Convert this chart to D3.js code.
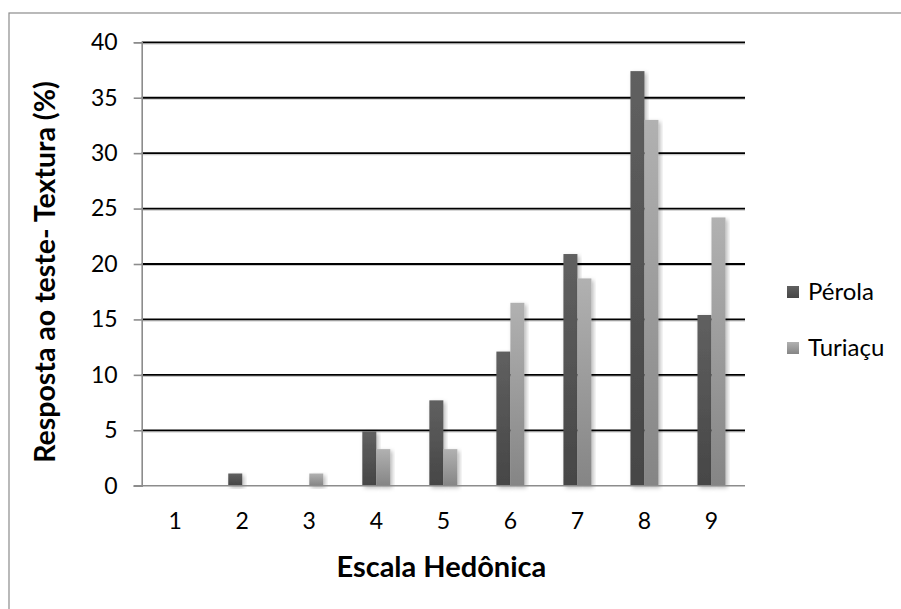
<!DOCTYPE html>
<html>
<head>
<meta charset="utf-8">
<script src="https://cdn.jsdelivr.net/npm/d3@7"></script>
<style>
  body { margin: 0; background: #fff; }
  svg { display: block; font-family: Lato, "Open Sans", sans-serif; }
</style>
</head>
<body>
<svg id="chart" width="901" height="609"></svg>
<script>
// Hedonic scale responses for texture (%)
const categories = ["1", "2", "3", "4", "5", "6", "7", "8", "9"];
const seriesNames = ["Pérola", "Turiaçu"];
const perolaValues = [0, 1.1, 0, 4.9, 7.7, 12.1, 20.9, 37.4, 15.4];
const turiacuValues = [0, 0, 1.1, 3.3, 3.3, 16.5, 18.7, 33.0, 24.2];
const yTicks = [0, 5, 10, 15, 20, 25, 30, 35, 40];
const xTitle = "Escala Hedônica";
const yTitle = "Resposta ao teste- Textura (%)";

const svg = d3.select("#chart");
const margin = { left: 141.7, right: 156, top: 42.3, bottom: 123.3 };
const W = 901, H = 609;
const plotW = W - margin.left - margin.right;
const plotH = H - margin.top - margin.bottom;

const defs = svg.append("defs");
const grads = [
  { id: "gPerola", top: "#606060", bottom: "#464646" },
  { id: "gTuriacu", top: "#b1b1b1", bottom: "#858585" }
];
grads.forEach(g => {
  const lg = defs.append("linearGradient").attr("id", g.id)
    .attr("x1", 0).attr("y1", 0).attr("x2", 0).attr("y2", 1);
  lg.append("stop").attr("offset", "0%").attr("stop-color", g.top);
  lg.append("stop").attr("offset", "100%").attr("stop-color", g.bottom);
});
const shadow = defs.append("filter").attr("id", "barShadow")
  .attr("x", "-30%").attr("y", "-10%").attr("width", "160%").attr("height", "130%");
shadow.append("feDropShadow").attr("dx", 2).attr("dy", 2)
  .attr("stdDeviation", 2).attr("flood-color", "#000").attr("flood-opacity", 0.28);

// outer chart frame
svg.append("rect").attr("x", 9).attr("y", 13).attr("width", 900).attr("height", 610)
  .attr("fill", "none").attr("stroke", "#8c8c8c").attr("stroke-width", 1.2);

const g = svg.append("g").attr("transform", `translate(${margin.left},${margin.top})`);

const x0 = d3.scaleBand().domain(categories).range([0, plotW]).paddingInner(0).paddingOuter(0);
const x1 = d3.scaleBand().domain(seriesNames).range([0, 28]);
const y = d3.scaleLinear().domain([0, 40]).range([plotH, 0]);

// gridlines with a soft underside
const grid = g.append("g");
yTicks.filter(t => t > 0).forEach(t => {
  grid.append("line").attr("x1", 0).attr("x2", plotW)
    .attr("y1", y(t) + 1.5).attr("y2", y(t) + 1.5)
    .attr("stroke", "#c8c8c8").attr("stroke-width", 1.2);
  grid.append("line").attr("x1", 0).attr("x2", plotW)
    .attr("y1", y(t)).attr("y2", y(t))
    .attr("stroke", "#000").attr("stroke-width", 1.8);
});

// bars
const data = categories.map((c, i) => ({
  cat: c,
  vals: [
    { name: seriesNames[0], v: perolaValues[i], fill: "url(#gPerola)" },
    { name: seriesNames[1], v: turiacuValues[i], fill: "url(#gTuriacu)" }
  ]
}));
const groups = g.selectAll("g.cat").data(data).join("g")
  .attr("class", "cat")
  .attr("transform", d => `translate(${x0(d.cat) + x0.bandwidth() / 2 - 14},0)`);
groups.selectAll("rect").data(d => d.vals.filter(s => s.v > 0)).join("rect")
  .attr("x", d => x1(d.name))
  .attr("width", x1.bandwidth())
  .attr("y", d => y(d.v))
  .attr("height", d => plotH - y(d.v))
  .attr("fill", d => d.fill)
  .attr("filter", "url(#barShadow)");

// y axis
const yAxis = g.append("g").call(d3.axisLeft(y).tickValues(yTicks).tickSize(8).tickPadding(16));
yAxis.select(".domain").attr("stroke", "#8c8c8c").attr("stroke-width", 1.6);
yAxis.selectAll(".tick line").attr("stroke", "#8c8c8c").attr("stroke-width", 1.6);
yAxis.selectAll("text").attr("font-size", 23).attr("fill", "#000")
  .attr("font-family", "Lato, sans-serif");

// x axis
const xAxis = g.append("g").attr("transform", `translate(0,${plotH})`)
  .call(d3.axisBottom(x0).tickSize(0).tickPadding(27));
xAxis.select(".domain").remove();
xAxis.append("line").attr("x1", -8).attr("x2", plotW).attr("y1", 0).attr("y2", 0)
  .attr("stroke", "#8c8c8c").attr("stroke-width", 1.6);
xAxis.selectAll("text").attr("font-size", 23).attr("fill", "#000")
  .attr("font-family", "Lato, sans-serif");

// axis titles
svg.append("text").attr("x", margin.left + plotW / 2 - 2).attr("y", 577)
  .attr("text-anchor", "middle").attr("font-size", 29).attr("font-weight", "bold")
  .text(xTitle);
svg.append("text")
  .attr("transform", `translate(55,272) rotate(-90)`)
  .attr("text-anchor", "middle").attr("font-size", 28.5).attr("font-weight", "bold")
  .text(yTitle);

// legend
const legend = svg.append("g");
const legendFills = ["url(#gPerola)", "url(#gTuriacu)"];
seriesNames.forEach((name, i) => {
  const ly = 292 + i * 56;
  legend.append("rect").attr("x", 787).attr("y", ly - 6).attr("width", 12).attr("height", 12)
    .attr("fill", legendFills[i]);
  legend.append("text").attr("x", 808).attr("y", ly + 8).attr("font-size", 24)
    .text(name);
});
</script>
</body>
</html>
